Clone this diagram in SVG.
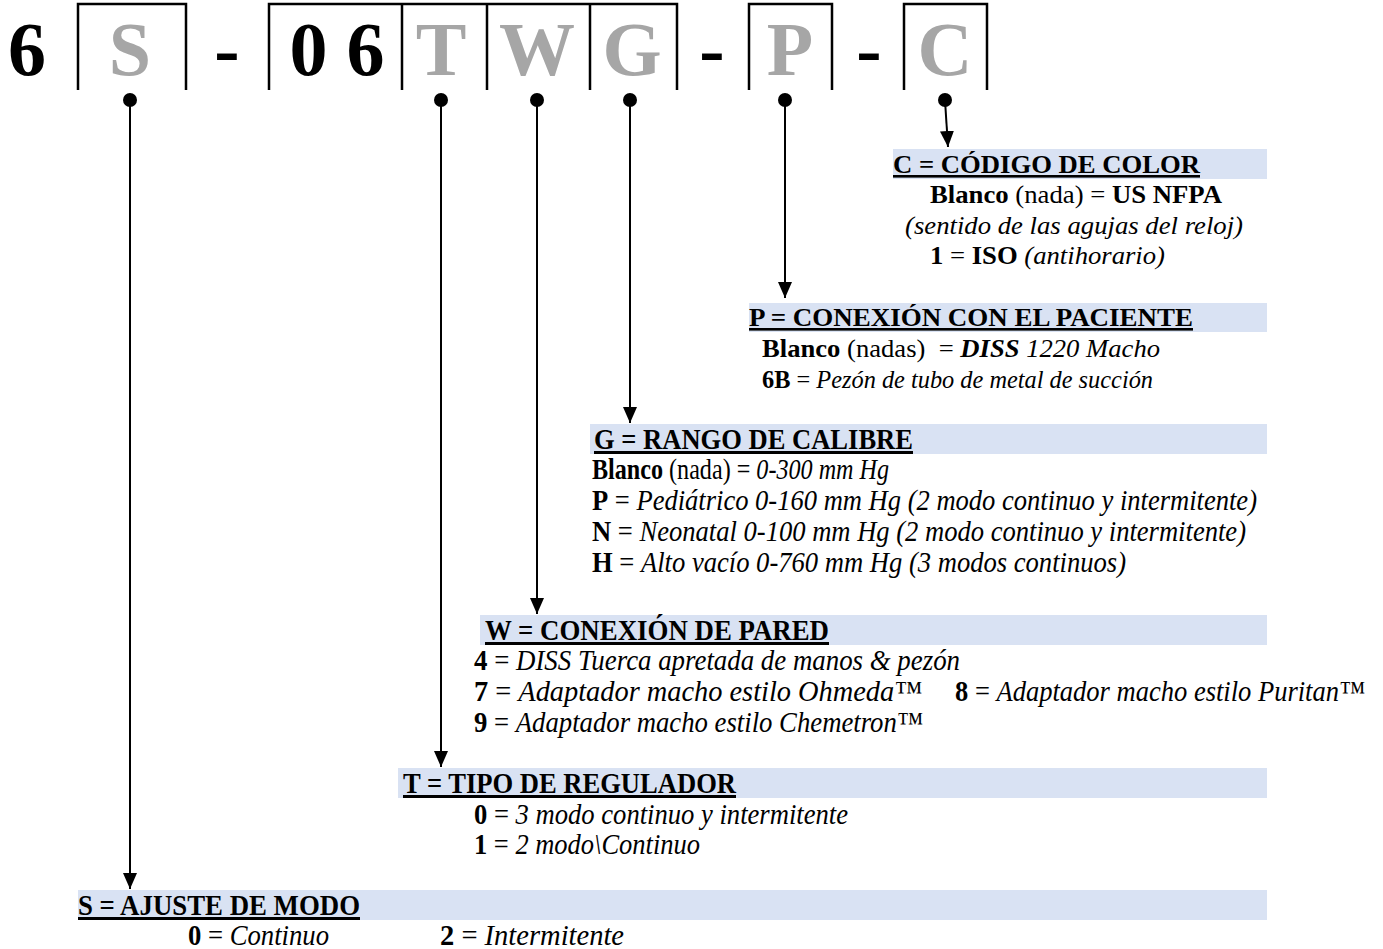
<svg xmlns="http://www.w3.org/2000/svg" width="1383" height="949" viewBox="0 0 1383 949">
<style>
.big{font-family:"Liberation Serif","Times New Roman",serif;font-weight:bold;font-size:76px;text-anchor:middle}
.blk{fill:#000}
.gray{fill:#a6a6a6}
.box{fill:none;stroke:#000;stroke-width:2.5}
.bar{fill:#d9e2f3}
.hd{font-family:"Liberation Serif","Times New Roman",serif;font-weight:bold;font-size:26px;text-decoration:underline;fill:#000}
.hl{font-size:30px}
.tx{font-family:"Liberation Serif","Times New Roman",serif;font-size:26px;fill:#000}
.tl{font-family:"Liberation Serif","Times New Roman",serif;font-size:29px;fill:#000}
.b{font-weight:bold}
.i{font-style:italic}
.conn line{stroke:#000;stroke-width:2}
.dot{fill:#000}
</style>
<defs>
<marker id="arr" viewBox="0 0 16 14" refX="16" refY="7" markerWidth="16" markerHeight="14" markerUnits="userSpaceOnUse" orient="auto">
<path d="M0,0 L16,7 L0,14 Z" fill="#000"/>
</marker>
</defs>

<g id="code">
<text class="big blk" x="27" y="75">6</text>
<path class="box" d="M78,90 V4 H186 V90"/>
<text class="big gray" x="130" y="75">S</text>
<text class="big blk" x="227" y="75">-</text>
<path class="box" d="M269,90 V4 H677 V90 M402,4 V90 M487,4 V90 M590,4 V90"/>
<text class="big blk" x="337" y="75">0 6</text>
<text class="big gray" x="441" y="75">T</text>
<text class="big gray" x="537" y="75">W</text>
<text class="big gray" x="632" y="75">G</text>
<text class="big blk" x="712" y="75">-</text>
<path class="box" d="M749,90 V4 H832 V90"/>
<text class="big gray" x="790" y="75">P</text>
<text class="big blk" x="869" y="75">-</text>
<path class="box" d="M904,90 V4 H987 V90"/>
<text class="big gray" x="945" y="75">C</text>
</g>

<g id="connectors" class="conn">
<circle class="dot" cx="130" cy="100" r="7"/>
<line x1="130" y1="100" x2="130" y2="889" marker-end="url(#arr)"/>
<circle class="dot" cx="441" cy="100" r="7"/>
<line x1="441" y1="100" x2="441" y2="767" marker-end="url(#arr)"/>
<circle class="dot" cx="537" cy="100" r="7"/>
<line x1="537" y1="100" x2="537" y2="614" marker-end="url(#arr)"/>
<circle class="dot" cx="630" cy="100" r="7"/>
<line x1="630" y1="100" x2="630" y2="423" marker-end="url(#arr)"/>
<circle class="dot" cx="785" cy="100" r="7"/>
<line x1="785" y1="100" x2="785" y2="298" marker-end="url(#arr)"/>
<circle class="dot" cx="945" cy="100" r="7"/>
<line x1="945" y1="100" x2="948" y2="147" marker-end="url(#arr)"/>
</g>

<g id="sec-c">
<rect class="bar" x="893" y="149" width="374" height="30"/>
<text class="hd" x="893" y="173" textLength="307" lengthAdjust="spacingAndGlyphs">C = CÓDIGO DE COLOR</text>
<text class="tx" x="930" y="203" textLength="292" lengthAdjust="spacingAndGlyphs"><tspan class="b">Blanco</tspan> (nada) = <tspan class="b">US NFPA</tspan></text>
<text class="tx i" x="905" y="234" textLength="338" lengthAdjust="spacingAndGlyphs">(sentido de las agujas del reloj)</text>
<text class="tx" x="930" y="264" textLength="235" lengthAdjust="spacingAndGlyphs"><tspan class="b">1</tspan> = <tspan class="b">ISO</tspan> <tspan class="i">(antihorario)</tspan></text>
</g>

<g id="sec-p">
<rect class="bar" x="749" y="303" width="518" height="29"/>
<text class="hd" x="749" y="326" textLength="444" lengthAdjust="spacingAndGlyphs">P = CONEXIÓN CON EL PACIENTE</text>
<text class="tx" x="762" y="357" textLength="398" lengthAdjust="spacingAndGlyphs"><tspan class="b">Blanco</tspan> (nadas)&#160; = <tspan class="b i">DISS</tspan><tspan class="i"> 1220 Macho</tspan></text>
<text class="tx" x="762" y="388" textLength="391" lengthAdjust="spacingAndGlyphs"><tspan class="b">6B</tspan> = <tspan class="i">Pezón de tubo de metal de succión</tspan></text>
</g>

<g id="sec-g">
<rect class="bar" x="590" y="424" width="677" height="30"/>
<text class="hd hl" x="594" y="449" textLength="319" lengthAdjust="spacingAndGlyphs">G = RANGO DE CALIBRE</text>
<text class="tl" x="592" y="479" textLength="297" lengthAdjust="spacingAndGlyphs"><tspan class="b">Blanco</tspan> (nada) = <tspan class="i">0-300 mm Hg</tspan></text>
<text class="tl" x="592" y="510" textLength="665" lengthAdjust="spacingAndGlyphs"><tspan class="b">P</tspan> = <tspan class="i">Pediátrico 0-160 mm Hg (2 modo continuo y intermitente)</tspan></text>
<text class="tl" x="592" y="541" textLength="654" lengthAdjust="spacingAndGlyphs"><tspan class="b">N</tspan> = <tspan class="i">Neonatal 0-100 mm Hg (2 modo continuo y intermitente)</tspan></text>
<text class="tl" x="592" y="572" textLength="534" lengthAdjust="spacingAndGlyphs"><tspan class="b">H</tspan> = <tspan class="i">Alto vacío 0-760 mm Hg (3 modos continuos)</tspan></text>
</g>

<g id="sec-w">
<rect class="bar" x="480" y="615" width="787" height="30"/>
<text class="hd hl" x="485" y="640" textLength="344" lengthAdjust="spacingAndGlyphs">W = CONEXIÓN DE PARED</text>
<text class="tl" x="474" y="670" textLength="486" lengthAdjust="spacingAndGlyphs"><tspan class="b">4</tspan> = <tspan class="i">DISS Tuerca apretada de manos &amp; pezón</tspan></text>
<text class="tl" x="474" y="701" textLength="448" lengthAdjust="spacingAndGlyphs"><tspan class="b">7</tspan> = <tspan class="i">Adaptador macho estilo Ohmeda™</tspan></text>
<text class="tl" x="955" y="701" textLength="410" lengthAdjust="spacingAndGlyphs"><tspan class="b">8</tspan> = <tspan class="i">Adaptador macho estilo Puritan™</tspan></text>
<text class="tl" x="474" y="732" textLength="449" lengthAdjust="spacingAndGlyphs"><tspan class="b">9</tspan> = <tspan class="i">Adaptador macho estilo Chemetron™</tspan></text>
</g>

<g id="sec-t">
<rect class="bar" x="398" y="768" width="869" height="30"/>
<text class="hd hl" x="403" y="793" textLength="333" lengthAdjust="spacingAndGlyphs">T = TIPO DE REGULADOR</text>
<text class="tl" x="474" y="824" textLength="374" lengthAdjust="spacingAndGlyphs"><tspan class="b">0</tspan> = <tspan class="i">3 modo continuo y intermitente</tspan></text>
<text class="tl" x="474" y="854" textLength="226" lengthAdjust="spacingAndGlyphs"><tspan class="b">1</tspan> = <tspan class="i">2 modo\Continuo</tspan></text>
</g>

<g id="sec-s">
<rect class="bar" x="78" y="890" width="1189" height="30"/>
<text class="hd hl" x="78" y="915" textLength="282" lengthAdjust="spacingAndGlyphs">S = AJUSTE DE MODO</text>
<text class="tl" x="188" y="945" textLength="141" lengthAdjust="spacingAndGlyphs"><tspan class="b">0</tspan> = <tspan class="i">Continuo</tspan></text>
<text class="tl" x="440" y="945" textLength="184" lengthAdjust="spacingAndGlyphs"><tspan class="b">2</tspan> = <tspan class="i">Intermitente</tspan></text>
</g>
</svg>
